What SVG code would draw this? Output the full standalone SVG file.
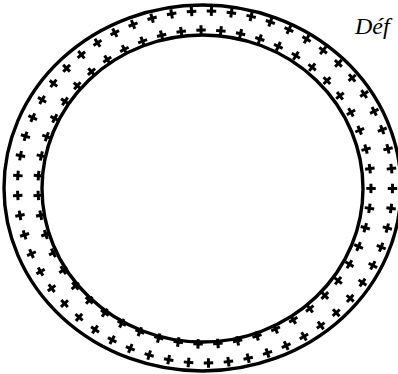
<svg xmlns="http://www.w3.org/2000/svg" width="398" height="374" viewBox="0 0 398 374">
<style>
.ring{fill:none;stroke:#000;stroke-width:3.4}
.radA{fill:none;stroke:#000;stroke-width:9.5;stroke-dasharray:3 17}
.tanA{fill:none;stroke:#000;stroke-width:3;stroke-dasharray:9.5 10.5;stroke-dashoffset:3.25}
.lbl{font-family:"Liberation Serif","DejaVu Serif",serif;font-style:italic;font-size:24px;fill:#000}
</style>
<rect width="398" height="374" fill="#fff"/>
<g id="band-plus">
<ellipse class="radA" cx="205" cy="187" rx="187.5" ry="176" pathLength="1140"/>
<ellipse class="tanA" cx="205" cy="187" rx="187.5" ry="176" pathLength="1140"/>
<ellipse class="radA" cx="204.5" cy="187" rx="166.5" ry="157" pathLength="1020"/>
<ellipse class="tanA" cx="204.5" cy="187" rx="166.5" ry="157" pathLength="1020"/>
</g>
<g id="outer-ring">
<ellipse class="ring" cx="202.5" cy="188" rx="198.5" ry="183"/>
</g>
<g id="inner-ring">
<ellipse class="ring" cx="202.5" cy="188.5" rx="160.5" ry="153.5"/>
</g>
<g id="label">
<text class="lbl" x="355" y="34">Déf</text>
</g>
</svg>
